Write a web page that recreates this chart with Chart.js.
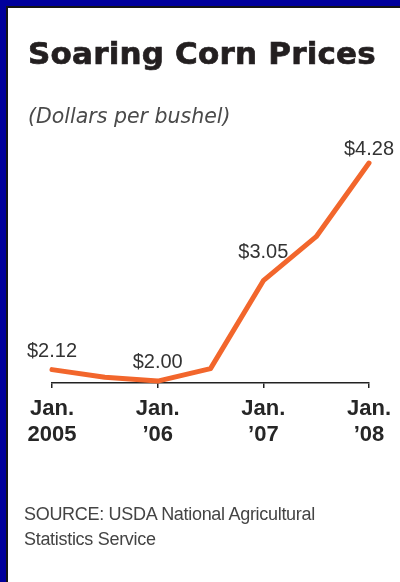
<!DOCTYPE html>
<html>
<head>
<meta charset="utf-8">
<title>Soaring Corn Prices</title>
<script src="https://cdn.jsdelivr.net/npm/chart.js@4/dist/chart.umd.min.js"></script>
<style>
  html, body { margin: 0; padding: 0; background: #fff; }
  #page { position: relative; width: 400px; height: 582px; overflow: hidden; }
  /* navy frame on top/left with a thin dark inner rule */
  .frame {
    position: absolute; left: 0; top: 0; right: 0; bottom: 0;
    border-top: 6px solid #00009c; border-left: 6px solid #00009c;
  }
  .frame-inner {
    position: absolute; left: 0; top: 0; right: 0; bottom: 0;
    border-top: 2px solid #151515; border-left: 2px solid #151515;
  }
  #chart { position: absolute; left: 0; top: 0; }
  .title {
    position: absolute; left: 28px; top: 38px;
    font: bold 31px/31px "DejaVu Sans", sans-serif;
    letter-spacing: 0.2px; color: #231f20; white-space: nowrap;
    -webkit-text-stroke: 0.7px #231f20;
  }
  .unit {
    position: absolute; left: 28px; top: 106px;
    font: italic 20.5px/20.5px "DejaVu Sans", sans-serif;
    color: #4a4a4a; white-space: nowrap;
  }
  .source {
    position: absolute; left: 24px; top: 502px;
    font: 18px/25px "Liberation Sans", Arial, sans-serif;
    letter-spacing: -0.3px; color: #444;
  }
</style>
</head>
<body>
<div id="page">
  <div class="frame"><div class="frame-inner"></div></div>
  <canvas id="chart" width="400" height="582"></canvas>
  <div class="title">Soaring Corn Prices</div>
  <div class="unit">(Dollars per bushel)</div>
  <div class="source">SOURCE: USDA National Agricultural<br>Statistics Service</div>
</div>

<script>
/* ── DATA ─────────────────────────────────────────────────────── */
const periods   = [2005, 2005.5, 2006, 2006.5, 2007, 2007.5, 2008];
const prices    = [2.12, 2.04, 2.00, 2.13, 3.05, 3.51, 4.28];
const tickYears = [2005, 2006, 2007, 2008];
const tickLabels = [['Jan.', '2005'], ['Jan.', '’06'], ['Jan.', '’07'], ['Jan.', '’08']];
const labelled  = [0, 2, 4, 6];   // points that carry a price tag

/* ── PRICE TAGS ABOVE SELECTED POINTS ─────────────────────────── */
const tagLift = { 0: 13, 2: 13, 4: 23, 6: 8 };
const priceTags = {
  id: 'priceTags',
  afterDatasetsDraw(chart) {
    const { ctx } = chart;
    const meta = chart.getDatasetMeta(0);
    ctx.save();
    ctx.font = '20px "Liberation Sans", Arial, sans-serif';
    ctx.fillStyle = '#333';
    ctx.textAlign = 'center';
    ctx.textBaseline = 'alphabetic';
    labelled.forEach(i => {
      const pt = meta.data[i];
      ctx.fillText('$' + prices[i].toFixed(2), pt.x, pt.y - tagLift[i]);
    });
    ctx.restore();
  }
};

/* ── CHART ────────────────────────────────────────────────────── */
new Chart(document.getElementById('chart'), {
  type: 'line',
  data: {
    datasets: [{
      data: periods.map((p, i) => ({ x: p, y: prices[i] })),
      borderColor: '#f2662c',
      borderWidth: 5,
      borderCapStyle: 'round',
      borderJoinStyle: 'round',
      pointRadius: 0,
      tension: 0,
      clip: false,
    }]
  },
  options: {
    responsive: false,
    animation: false,
    devicePixelRatio: 1,
    layout: { padding: { top: 142, left: 52, right: 31, bottom: 99 } },
    plugins: { legend: { display: false }, tooltip: { enabled: false } },
    scales: {
      x: {
        type: 'linear',
        min: 2005, max: 2008,
        afterBuildTicks: s => { s.ticks = tickYears.map(v => ({ value: v })); },
        afterFit: s => { s.height = 100; },
        border: { display: true, color: '#222', width: 1.5 },
        grid: { drawOnChartArea: false, drawTicks: true, tickLength: 5, color: '#222', lineWidth: 1.5 },
        ticks: {
          autoSkip: false, maxRotation: 0, padding: 8,
          color: '#262626',
          font: { family: '"Liberation Sans", Arial, sans-serif', size: 22, weight: 'bold', lineHeight: 26 / 22 },
          callback: (v, i) => tickLabels[i]
        }
      },
      y: { display: false, min: 1.98, max: 4.5 }
    }
  },
  plugins: [priceTags]
});
</script>
</body>
</html>
